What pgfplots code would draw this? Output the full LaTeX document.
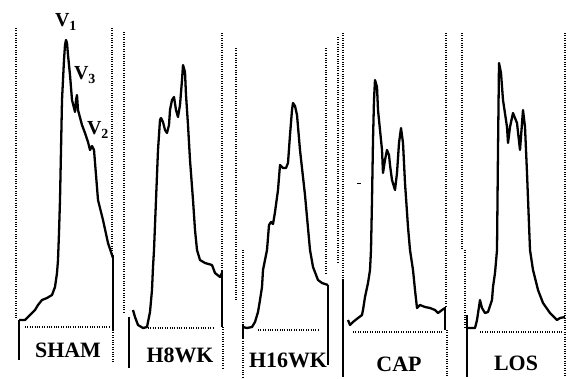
\documentclass[border=0pt]{standalone}
\usepackage{pgfplots}
\pgfplotsset{compat=1.18}
\usepackage{fontspec}
\setmainfont{Liberation Serif}
\begin{document}
\begin{tikzpicture}[
  trace/.style={black, line width=2.3pt, line join=round},
  bar/.style={black, line width=2.2pt},
  dots/.style={black, line width=1.3pt, dash pattern=on 1pt off 1.4pt},
  lab/.style={font=\bfseries\fontsize{22}{22}\selectfont, inner sep=0pt},
  vlab/.style={font=\bfseries\fontsize{20}{20}\selectfont, inner sep=0pt},
]
\begin{axis}[
  scale only axis, width=568bp, height=377bp,
  xmin=0, xmax=568, ymin=0, ymax=377, y dir=reverse,
  hide axis, clip=false,
]
\addplot[draw=none] coordinates {(0,0) (568,377)};
% dotted vertical borders
\addplot[dots] coordinates {(16,28) (16,318)};
\addplot[dots] coordinates {(112,28) (112,253)};
\addplot[dots] coordinates {(113,330) (113,362)};
\addplot[dots] coordinates {(124,32) (124,313)};
\addplot[dots] coordinates {(222,33) (222,270)};
\addplot[dots] coordinates {(223,327) (223,370)};
\addplot[dots] coordinates {(236,48) (236,300)};
\addplot[dots] coordinates {(243,250) (243,377)};
\addplot[dots] coordinates {(326,48) (326,273)};
\addplot[dots] coordinates {(338,37) (338,262)};
\addplot[dots] coordinates {(343,33) (343,280)};
\addplot[dots] coordinates {(446,33) (446,307)};
\addplot[dots] coordinates {(447,330) (447,377)};
\addplot[dots] coordinates {(462,33) (462,250)};
\addplot[dots] coordinates {(465,250) (465,327)};
\addplot[dots] coordinates {(565,33) (565,377)};
% dotted baselines
\addplot[dots] coordinates {(25,327) (110,327)};
\addplot[dots] coordinates {(148,328) (213,328)};
\addplot[dots] coordinates {(258,330) (318,330)};
\addplot[dots] coordinates {(353,332) (443,332)};
\addplot[dots] coordinates {(480,332) (563,332)};
% solid bars
\addplot[bar] coordinates {(19,320) (19,360)};
\addplot[bar] coordinates {(113,255) (113,330)};
\addplot[bar] coordinates {(129,317) (129,368)};
\addplot[bar] coordinates {(222,270) (222,327)};
\addplot[bar] coordinates {(243,325) (243,338)};
\addplot[bar] coordinates {(328,285) (328,365)};
\addplot[bar] coordinates {(343,280) (343,377)};
\addplot[bar] coordinates {(445,307) (445,330)};
\addplot[bar] coordinates {(467,315) (467,377)};
\addplot[black, line width=1pt] coordinates {(357,183) (361,183)};
% SHAM
\addplot[trace] coordinates {(19,320) (25,320) (30,315) (35,310) (38,305) (42,300) (47,298) (52,295) (55,287) (57,273) (58,260) (59,233) (60,200) (61,150) (62,100) (64,60) (65,45) (66,40) (67,43) (68,55) (70,75) (72,100) (75,112) (76,100) (77,95) (78,110) (82,125) (85,133) (88,142) (90,150) (92,146) (94,150) (96,175) (98,200) (103,220) (108,243) (112,255) (113,258)};
% H8WK
\addplot[trace] coordinates {(133,310) (135,317) (138,325) (143,328) (147,327) (148,322) (150,312) (152,290) (153,267) (154,250) (156,200) (158,150) (160,120) (161,118) (163,122) (165,130) (167,133) (169,125) (170,110) (172,100) (174,97) (176,110) (178,117) (180,105) (182,80) (183,65) (185,72) (186,95) (188,125) (190,160) (193,200) (195,230) (197,250) (200,260) (205,263) (212,265) (215,273) (220,277) (222,273)};
% H16WK
\addplot[trace] coordinates {(243,327) (247,328) (252,327) (255,322) (258,312) (260,300) (262,287) (263,270) (267,250) (269,225) (271,222) (273,224) (275,212) (278,190) (280,165) (283,168) (286,168) (288,163) (290,135) (292,110) (293,103) (295,106) (297,115) (300,150) (305,195) (310,250) (313,267) (318,280) (322,283) (328,285)};
% CAP
\addplot[trace] coordinates {(348,320) (350,325) (353,322) (358,318) (362,315) (363,310) (365,297) (368,283) (370,270) (371,250) (372,200) (373,140) (374,100) (375,80) (377,87) (378,110) (382,150) (383,173) (385,160) (387,150) (389,155) (390,165) (392,180) (395,190) (397,173) (399,143) (401,128) (403,143) (405,183) (408,227) (410,250) (413,270) (415,290) (417,308) (420,305) (425,307) (430,308) (435,310) (438,313) (442,310) (445,308)};
% LOS
\addplot[trace] coordinates {(468,328) (475,328) (477,320) (480,300) (482,308) (485,313) (488,312) (492,300) (493,287) (495,273) (497,250) (498,150) (499,63) (501,73) (503,100) (507,127) (508,143) (510,127) (513,113) (517,123) (520,150) (523,110) (525,127) (527,173) (530,250) (533,270) (538,290) (543,303) (550,313) (557,320) (560,318) (565,317)};
% labels
\node[lab] at (axis cs:68,350) {SHAM};
\node[lab] at (axis cs:180,355) {H8WK};
\node[lab] at (axis cs:288,360) {H16WK};
\node[lab] at (axis cs:399,364) {CAP};
\node[lab] at (axis cs:516,363) {LOS};
\node[vlab] at (axis cs:66,22) {V$_{\mathbf 1}$};
\node[vlab] at (axis cs:85,75) {V$_{\mathbf 3}$};
\node[vlab] at (axis cs:98,130) {V$_{\mathbf 2}$};
\end{axis}
\end{tikzpicture}
\end{document}
